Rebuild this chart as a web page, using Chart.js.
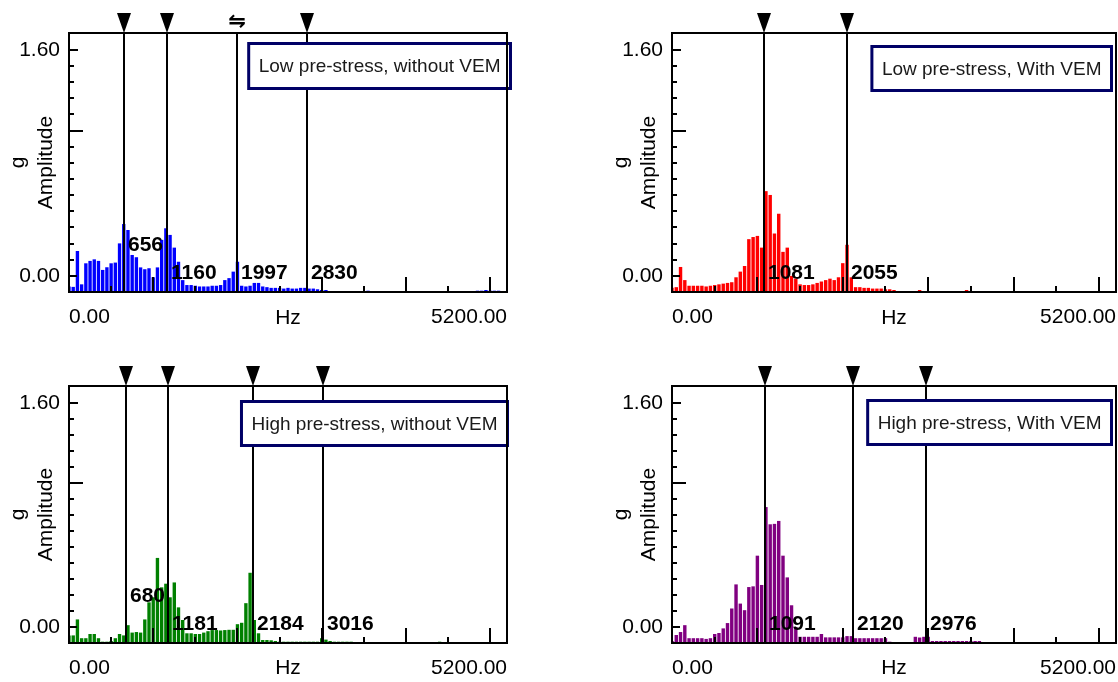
<!DOCTYPE html>
<html>
<head>
<meta charset="utf-8">
<script src="https://cdn.jsdelivr.net/npm/chart.js@4.4.1/dist/chart.umd.min.js"></script>
<style>
  html, body { margin: 0; padding: 0; background: #fff; }
  body { width: 1118px; height: 682px; position: relative; overflow: hidden; }
  canvas { position: absolute; }
</style>
</head>
<body>
<canvas id="lowNoVemChart"></canvas>
<canvas id="lowVemChart"></canvas>
<canvas id="highNoVemChart"></canvas>
<canvas id="highVemChart"></canvas>
<script>
// Spectrum bins, 50 Hz wide, starting at 0 Hz (amplitude in g, null = no line)
const BIN_HZ = 50;

const lowNoVem = [
  -0.076, -0.078, 0.176, -0.06, 0.089, 0.106, 0.117, 0.106, 0.042, 0.061,   // 0-450
  0.089, 0.094, 0.23, 0.367, 0.325, 0.148, 0.132, 0.06, 0.047, 0.054,       // 500-950
  -0.01, 0.06, 0.255, 0.337, 0.29, 0.2, 0.1, -0.03, -0.065, -0.065,         // 1000-1450
  -0.07, -0.075, -0.075, -0.075, -0.07, -0.07, -0.065, -0.03, -0.016, 0.03, // 1500-1950
  0.1, -0.07, -0.075, -0.07, -0.05, -0.05, -0.075, -0.08, -0.085, -0.085,   // 2000-2450
  -0.085, -0.09, -0.085, -0.09, -0.09, -0.085, -0.085, -0.09, -0.09, -0.095,// 2500-2950
  -0.1, -0.1, null, null, null, null, null, null, null, null,               // 3000-3450
  null, -0.105, null, null, null, null, null, null, null, null,             // 3500-3950
  null, null, null, null, null, null, null, null, null, null,               // 4000-4450
  null, null, null, null, null, null, null, -0.105, -0.105, -0.1,           // 4500-4950
  -0.105, -0.105, -0.105, null                                              // 5000-5150
];

const lowVem = [
  -0.085, -0.08, 0.063, -0.03, -0.07, -0.07, -0.07, -0.07, -0.075, -0.07,
  -0.065, -0.06, -0.055, -0.05, -0.045, -0.01, 0.03, 0.07, 0.26, 0.275,
  0.283, 0.2, 0.6, 0.573, 0.3, 0.44, 0.17, 0.2, 0.0, -0.02,
  -0.06, -0.065, -0.065, -0.06, -0.05, -0.04, -0.03, -0.02, -0.03, -0.01,
  0.09, 0.22, -0.01, -0.08, -0.08, -0.085, -0.085, -0.09, -0.09, -0.09,
  -0.095, -0.095, -0.1, null, null, null, null, null, -0.1, null,
  null, null, null, null, null, null, null, null, null, -0.1,
  null, null, null, null, null, null, null, null, null, null,
  null, null, null, null, null, null, null, null, null, null,
  null, null, null, null, null, null, null, null, null, null,
  null, null, null, null
];

const highNoVem = [
  -0.06, -0.06, 0.054, -0.08, -0.08, -0.05, -0.05, -0.08, -0.105, -0.105,
  -0.1, -0.08, -0.05, -0.06, 0.013, -0.04, -0.036, -0.04, 0.054, 0.176,
  0.212, 0.493, 0.283, 0.309, 0.212, 0.318, 0.14, 0.05, -0.045, -0.045,
  -0.05, -0.05, -0.04, -0.03, -0.022, -0.022, -0.025, -0.022, -0.02, -0.02,
  0.02, 0.03, 0.17, 0.387, 0.05, -0.045, -0.093, -0.093, -0.095, -0.1,
  -0.105, -0.105, -0.105, -0.105, -0.105, -0.105, -0.105, -0.105, -0.105, -0.105,
  -0.08, -0.09, -0.1, -0.105, -0.105, -0.105, -0.105, -0.105, null, null,
  null, null, null, null, null, null, null, null, null, null,
  null, null, null, null, null, null, null, null, -0.105, null,
  null, null, null, null, null, -0.108, null, null, null, null,
  null, null, null, -0.108
];

const highVem = [
  -0.1, -0.057, -0.036, 0.013, -0.08, -0.08, -0.08, -0.08, -0.085, -0.08,
  -0.05, -0.043, -0.01, 0.028, 0.132, 0.304, 0.167, 0.12, 0.285, 0.29,
  0.509, 0.3, 0.856, 0.733, 0.736, 0.757, 0.509, 0.354, 0.155, 0.0,
  -0.07, -0.07, -0.07, -0.07, -0.07, -0.05, -0.074, -0.074, -0.074, -0.074,
  -0.074, -0.065, -0.065, -0.08, -0.08, -0.08, -0.08, -0.08, -0.08, -0.08,
  -0.08, -0.105, null, null, null, null, null, -0.07, -0.075, -0.07,
  -0.07, -0.1, -0.1, -0.1, -0.1, -0.1, -0.1, -0.1, -0.1, -0.1,
  -0.1, -0.1, -0.1, null, null, null, null, null, null, null,
  null, null, null, null, null, null, null, null, null, null,
  null, null, null, null, null, null, null, null, null, null,
  null, null, null, null
];

// Peak cursors (Hz) and the height of their readout text (g)
const lowNoVemPeaks = [656, 1160, 1997, 2830];
const lowNoVemLabelAt = [0.22, 0.02, 0.02, 0.02];
const lowNoVemCursor = ['tri', 'tri', 'swap', 'tri'];
const lowVemPeaks = [1081, 2055];
const lowVemLabelAt = [0.02, 0.02];
const highNoVemPeaks = [680, 1181, 2184, 3016];
const highNoVemLabelAt = [0.22, 0.02, 0.02, 0.02];
const highVemPeaks = [1091, 2120, 2976];
const highVemLabelAt = [0.02, 0.02, 0.02];

// Axes
const xTickLabels = [0, 5200];
const xTickMarks = [500, 1000, 1500, 2000, 2500, 3000, 3500, 4000, 4500, 5000];
const yTickLabels = [0, 1.6];
const Y_MIN = -1.6 / 14;
const Y_MAX = 1.72;

const FONT = '"Liberation Sans", Arial, sans-serif';

const spectrumDecor = {
  id: 'spectrumDecor',
  afterDatasetsDraw(chart, args, o) {
    const { ctx, chartArea: a, scales: { x, y } } = chart;
    const step = (yTickLabels[1] - yTickLabels[0]) / 14;
    ctx.save();
    ctx.strokeStyle = '#000';
    ctx.lineWidth = 2;

    // inward tick marks on the left and bottom edges
    ctx.beginPath();
    for (let k = 0; k <= 14; k++) {
      const py = Math.round(y.getPixelForValue(k * step));
      const len = k === 0 ? 8 : k === 14 ? 9 : k === 9 ? 14 : 5;
      ctx.moveTo(a.left, py);
      ctx.lineTo(a.left + len, py);
    }
    xTickMarks.forEach(f => {
      const px = Math.round(x.getPixelForValue(f));
      const len = f % 1000 === 0 ? 15 : 6;
      ctx.moveTo(px, a.bottom);
      ctx.lineTo(px, a.bottom - len);
    });
    ctx.stroke();

    // cursor lines
    const cx = o.peaks.map(f => Math.round(x.getPixelForValue(f)));
    ctx.beginPath();
    cx.forEach(px => { ctx.moveTo(px, a.top); ctx.lineTo(px, a.bottom); });
    ctx.stroke();

    // cursor readouts
    ctx.fillStyle = '#000';
    ctx.font = `bold 21px ${FONT}`;
    ctx.textAlign = 'left';
    ctx.textBaseline = 'middle';
    o.peaks.forEach((f, i) => {
      ctx.fillText(String(f), cx[i] + 4, y.getPixelForValue(o.labelAt[i]));
    });

    // caption box
    ctx.font = `19px ${FONT}`;
    const bw = ctx.measureText(o.caption).width + 23;
    const bh = o.capH;
    const bx = a.right + o.capRight - bw;
    const by = a.top + o.capTop;
    ctx.fillStyle = '#fff';
    ctx.fillRect(bx, by, bw, bh);
    ctx.strokeStyle = '#000066';
    ctx.lineWidth = 3;
    ctx.strokeRect(bx + 1.5, by + 1.5, bw - 3, bh - 3);
    ctx.fillStyle = '#1a1a1a';
    ctx.textAlign = 'center';
    ctx.fillText(o.caption, bx + bw / 2, by + bh / 2 + 1);

    // plot frame
    ctx.strokeStyle = '#000';
    ctx.lineWidth = 2;
    ctx.strokeRect(a.left, a.top, a.width, a.height);

    // cursor heads above the frame
    ctx.fillStyle = '#000';
    cx.forEach((px, i) => {
      const kind = o.cursor ? o.cursor[i] : 'tri';
      if (kind === 'swap') {
        ctx.font = 'bold 21px "DejaVu Sans"';
        ctx.textAlign = 'center';
        ctx.textBaseline = 'middle';
        ctx.fillText('\u21CB', px, a.top - 10);
      } else {
        ctx.beginPath();
        ctx.moveTo(px - 7, a.top - 20);
        ctx.lineTo(px + 7, a.top - 20);
        ctx.lineTo(px, a.top);
        ctx.closePath();
        ctx.fill();
      }
    });
    ctx.restore();
  }
};

const panels = [
  { id: 'lowNoVemChart', left: 0, top: 0, w: 540, h: 341, padTop: 33, padRight: 33, xAxisH: 49, hzPad: 10,
    color: '#0000ff', amps: lowNoVem, peaks: lowNoVemPeaks, labelAt: lowNoVemLabelAt, cursor: lowNoVemCursor,
    caption: 'Low pre-stress, without VEM', capRight: 5, capTop: 9, capH: 48 },
  { id: 'lowVemChart', left: 603, top: 0, w: 515, h: 341, padTop: 33, padRight: 2, xAxisH: 49, hzPad: 10,
    color: '#ff0000', amps: lowVem, peaks: lowVemPeaks, labelAt: lowVemLabelAt,
    caption: 'Low pre-stress, With VEM', capRight: -3, capTop: 12, capH: 47 },
  { id: 'highNoVemChart', left: 0, top: 341, w: 540, h: 341, padTop: 45, padRight: 33, xAxisH: 39, hzPad: 1,
    color: '#008000', amps: highNoVem, peaks: highNoVemPeaks, labelAt: highNoVemLabelAt,
    caption: 'High pre-stress, without VEM', capRight: 2, capTop: 14, capH: 47 },
  { id: 'highVemChart', left: 603, top: 341, w: 515, h: 341, padTop: 45, padRight: 2, xAxisH: 39, hzPad: 1,
    color: '#800080', amps: highVem, peaks: highVemPeaks, labelAt: highVemLabelAt,
    caption: 'High pre-stress, With VEM', capRight: -3, capTop: 13, capH: 47 }
];

panels.forEach(p => {
  const canvas = document.getElementById(p.id);
  Object.assign(canvas, { width: p.w, height: p.h });
  canvas.style.left = p.left + 'px';
  canvas.style.top = p.top + 'px';

  const points = [];
  p.amps.forEach((v, i) => {
    if (v !== null) points.push({ x: i * BIN_HZ, y: v });
  });

  new Chart(canvas.getContext('2d'), {
    type: 'bar',
    data: {
      datasets: [{
        data: points,
        backgroundColor: p.color,
        borderWidth: 0,
        base: Y_MIN,
        barPercentage: 0.8,
        categoryPercentage: 1.0
      }]
    },
    options: {
      responsive: false,
      animation: false,
      layout: { padding: { top: p.padTop, right: p.padRight, left: 0, bottom: 0 } },
      plugins: {
        legend: { display: false },
        tooltip: { enabled: false },
        spectrumDecor: {
          peaks: p.peaks, labelAt: p.labelAt, cursor: p.cursor,
          caption: p.caption, capRight: p.capRight, capTop: p.capTop, capH: p.capH
        }
      },
      scales: {
        x: {
          type: 'linear', min: 0, max: 5200, offset: false,
          // label gap comes from the (hidden) tick length so no side padding is added
          grid: { display: false, drawTicks: true, tickLength: 13 },
          border: { display: false },
          afterBuildTicks: s => { s.ticks = xTickLabels.map(v => ({ value: v })); },
          ticks: {
            align: 'inner', padding: 0, maxRotation: 0, autoSkip: false, color: '#000',
            font: { family: FONT, size: 21 },
            callback: v => Number(v).toFixed(2)
          },
          title: {
            display: true, text: 'Hz', color: '#000',
            font: { family: FONT, size: 21, lineHeight: 1.2 },
            padding: { top: 0, bottom: p.hzPad }
          },
          afterFit: s => { s.height = p.xAxisH; }
        },
        y: {
          min: Y_MIN, max: Y_MAX,
          grid: { display: false, drawTicks: true, tickLength: 9 },
          border: { display: false },
          afterBuildTicks: s => { s.ticks = yTickLabels.map(v => ({ value: v })); },
          ticks: {
            padding: 0, color: '#000',
            font: { family: FONT, size: 21 },
            callback: v => Number(v).toFixed(2)
          },
          title: {
            display: true, text: ['g', 'Amplitude'], color: '#000',
            font: { family: FONT, size: 21, lineHeight: 1.3 },
            padding: { top: 5, bottom: 0 }
          },
          afterFit: s => { s.width = 69; }
        }
      }
    },
    plugins: [spectrumDecor]
  });
});
</script>
</body>
</html>
